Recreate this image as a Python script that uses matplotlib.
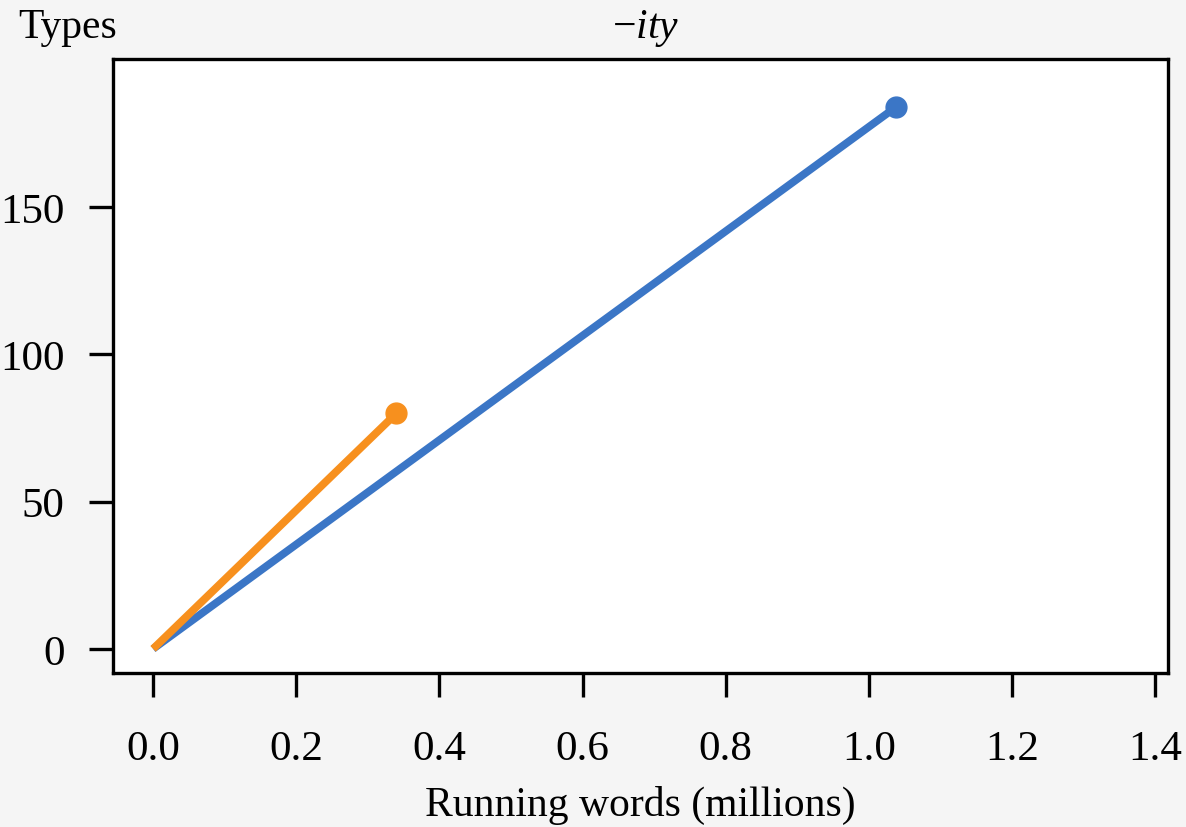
import matplotlib
matplotlib.use("Agg")
import matplotlib.pyplot as plt

# endpoints of the two growth curves (running words in millions, types)
blue_x = [0.0, 1.038]
blue_y = [0, 184]
orange_x = [0.0, 0.34]
orange_y = [0, 80]

x_ticks = [0.0, 0.2, 0.4, 0.6, 0.8, 1.0, 1.2, 1.4]
y_ticks = [0, 50, 100, 150]

plt.rcParams['font.family'] = ['Liberation Serif', 'DejaVu Serif']
plt.rcParams['mathtext.fontset'] = 'custom'
plt.rcParams['mathtext.it'] = 'Liberation Serif:italic'
plt.rcParams['mathtext.rm'] = 'Liberation Serif'

fig = plt.figure(figsize=(11.86, 8.28), dpi=100, facecolor='#f5f5f5')
ax = fig.add_axes([0.0953, 0.186, 0.8895, 0.7415])
ax.set_facecolor('white')

blue = '#3b76c6'
orange = '#f7901e'
ax.plot(blue_x, blue_y, color=blue, lw=5.6, solid_capstyle='butt')
ax.plot(blue_x[-1], blue_y[-1], 'o', color=blue, ms=15)
ax.plot(orange_x, orange_y, color=orange, lw=5.6, solid_capstyle='butt')
ax.plot(orange_x[-1], orange_y[-1], 'o', color=orange, ms=15)

ax.set_xlim(-0.056, 1.418)
ax.set_ylim(-8.2, 200.3)
ax.set_xticks(x_ticks)
ax.set_xticklabels([f"{t:.1f}" for t in x_ticks])
ax.set_yticks(y_ticks)

for s in ax.spines.values():
    s.set_linewidth(2.4)
ax.tick_params(direction='out', length=17, width=2.4, labelsize=31)
ax.tick_params(axis='x', pad=24)
ax.tick_params(axis='y', pad=18)

ax.set_xlabel("Running words (millions)", fontsize=30, labelpad=12)
fig.text(0.015, 0.966, "Types", fontsize=30, ha='left', va='center')
fig.text(0.544, 0.966, "\u2212$ity$", fontsize=30, ha='center', va='center')

fig.savefig("out.png", dpi=100, facecolor=fig.get_facecolor())
